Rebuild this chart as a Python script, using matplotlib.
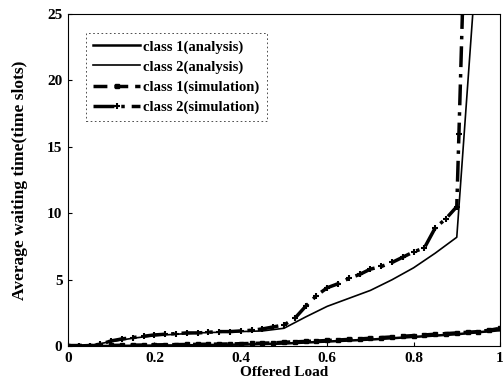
import matplotlib
import matplotlib.pyplot as plt

matplotlib.use("Agg")

# Class 2 analysis curve
c2_ana_x = [0, 0.05, 0.1, 0.15, 0.2, 0.25, 0.3, 0.35, 0.4, 0.45, 0.5, 0.55, 0.6,
            0.65, 0.7, 0.75, 0.8, 0.85, 0.9, 0.937]
c2_ana_y = [0, 0.05, 0.35, 0.6, 0.8, 0.9, 1.0, 1.05, 1.1, 1.15, 1.35, 2.2, 3.0,
            3.6, 4.2, 5.0, 5.9, 7.0, 8.2, 25]

# Class 2 simulation curve
c2_sim_x = [0, 0.025, 0.05, 0.075, 0.1, 0.125, 0.15, 0.175, 0.2, 0.225, 0.25,
            0.275, 0.3, 0.325, 0.35, 0.375, 0.4, 0.425, 0.45, 0.475, 0.5, 0.525,
            0.55, 0.575, 0.6, 0.625, 0.65, 0.675, 0.7, 0.725, 0.75, 0.775, 0.8,
            0.825, 0.85, 0.875, 0.9, 0.905, 0.913]
c2_sim_y = [0, 0.02, 0.05, 0.15, 0.4, 0.55, 0.65, 0.75, 0.85, 0.9, 0.95,
            1.0, 1.0, 1.05, 1.1, 1.1, 1.15, 1.2, 1.3, 1.45, 1.6, 2.1,
            3.0, 3.8, 4.4, 4.7, 5.1, 5.4, 5.8, 6.0, 6.3, 6.7, 7.1,
            7.4, 8.9, 9.6, 10.5, 16, 25]

# Class 1 analysis curve
c1_ana_x = [0, 0.1, 0.2, 0.3, 0.4, 0.5, 0.6, 0.7, 0.8, 0.9, 1.0]
c1_ana_y = [0, 0.02, 0.05, 0.08, 0.12, 0.2, 0.35, 0.5, 0.7, 0.9, 1.2]

# Class 1 simulation curve
c1_sim_x = [i * 0.025 for i in range(41)]
c1_sim_y = [0.05, 0.05, 0.05, 0.05, 0.06, 0.07, 0.08, 0.09, 0.10, 0.11, 0.12,
            0.13, 0.14, 0.15, 0.16, 0.17, 0.19, 0.21, 0.23, 0.25, 0.3, 0.33,
            0.36, 0.39, 0.43, 0.47, 0.51, 0.55, 0.6, 0.65, 0.7, 0.75, 0.8,
            0.85, 0.9, 0.95, 1.0, 1.05, 1.1, 1.2, 1.35]

x_ticks = [0, 0.2, 0.4, 0.6, 0.8, 1]
x_tick_labels = ["0", "0.2", "0.4", "0.6", "0.8", "1"]
y_ticks = [0, 5, 10, 15, 20, 25]

plt.rcParams["font.family"] = ["Liberation Serif", "DejaVu Serif"]
plt.rcParams["font.weight"] = "bold"

fig = plt.figure(figsize=(5.04, 3.89), dpi=100)
ax = fig.add_axes([0.135, 0.11, 0.857, 0.854])

ax.plot(c1_ana_x, c1_ana_y, color="black", lw=1.8, label="class 1(analysis)")
ax.plot(c2_ana_x, c2_ana_y, color="black", lw=1.2, label="class 2(analysis)")
ax.plot(c1_sim_x, c1_sim_y, color="black", lw=2.5, ls=(0, (4, 2)),
        marker="s", ms=3, label="class 1(simulation)")
ax.plot(c2_sim_x, c2_sim_y, color="black", lw=2.5, ls=(0, (6, 2, 1, 2)),
        marker="+", ms=5, mew=1.5, label="class 2(simulation)")

ax.set_xlim(0, 1)
ax.set_ylim(0, 25)
ax.set_xticks(x_ticks)
ax.set_xticklabels(x_tick_labels)
ax.set_yticks(y_ticks)
ax.tick_params(direction="in", length=3, labelsize=11, pad=4)
for lbl in ax.get_xticklabels() + ax.get_yticklabels():
    lbl.set_fontweight("bold")

ax.set_xlabel("Offered Load", fontsize=11, fontweight="bold", labelpad=1)
ax.set_ylabel("Average waiting time(time slots)", fontsize=12.5,
              fontweight="bold", labelpad=14)

leg = ax.legend(loc="upper left", bbox_to_anchor=(0.025, 0.965), fontsize=10.5,
                frameon=True, fancybox=False, handlelength=3.2,
                handletextpad=0.2, borderpad=0.5, labelspacing=0.45)
leg.get_frame().set_edgecolor("black")
leg.get_frame().set_linestyle((0, (2, 3)))
leg.get_frame().set_linewidth(0.6)
for t in leg.get_texts():
    t.set_fontweight("bold")

fig.savefig("out.png", dpi=100)
